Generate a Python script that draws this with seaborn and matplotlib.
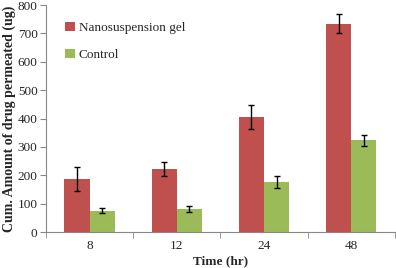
import seaborn as sns
import matplotlib.pyplot as plt
import pandas as pd
from matplotlib.ticker import FixedLocator

# data
times = ['8', '12', '24', '48']
nano = [187, 222, 405, 735]
nano_err = [42, 24, 42, 35]
control = [75, 82, 175, 323]
control_err = [9, 10, 21, 19]

df = pd.DataFrame({
    'Time': times * 2,
    'Amount': nano + control,
    'Group': ['Nanosuspension gel'] * 4 + ['Control'] * 4,
})

sns.set_style('white')
plt.rcParams['font.family'] = ['Liberation Serif', 'DejaVu Serif']

fig = plt.figure(figsize=(3.96, 2.68), dpi=100)
ax = fig.add_axes([0.116, 0.134, 0.881, 0.847])

sns.barplot(data=df, x='Time', y='Amount', hue='Group',
            palette=['#C0504D', '#9BBB59'], width=0.575, errorbar=None,
            saturation=1, linewidth=0, gap=0, ax=ax)

# error bars at bar centres
errs = nano_err + control_err
for bar, e in zip(ax.patches[:8], errs):
    cx = bar.get_x() + bar.get_width() / 2
    ax.errorbar(cx, bar.get_height(), yerr=e, fmt='none', ecolor='black',
                elinewidth=1, capsize=2, capthick=1)

ax.set_ylim(0, 800)
ax.set_xlim(-0.5, 3.5)
ax.set_yticks(range(0, 801, 100))
ax.xaxis.set_minor_locator(FixedLocator([-0.5, 0.5, 1.5, 2.5, 3.5]))
ax.tick_params(axis='x', which='major', length=0, labelsize=9.5, pad=6)
ax.tick_params(axis='x', which='minor', length=4, direction='out', color='#888888', bottom=True)
ax.tick_params(axis='y', length=4, direction='out', color='#888888', labelsize=9.5, left=True, pad=2)

ax.set_xlabel('Time (hr)', fontsize=9.5, fontweight='bold', labelpad=2)
ax.set_ylabel('Cum. Amount of drug permeated (ug)', fontsize=10, fontweight='bold', labelpad=1)

for s in ['top', 'right']:
    ax.spines[s].set_visible(False)
for s in ['left', 'bottom']:
    ax.spines[s].set_color('#888888')
    ax.spines[s].set_linewidth(0.8)

ax.legend(loc='upper left', bbox_to_anchor=(0.022, 0.98), frameon=False,
          fontsize=9.5, handlelength=0.7, handleheight=0.7, labelspacing=1.15,
          handletextpad=0.3)

fig.savefig('out.png', dpi=100)
